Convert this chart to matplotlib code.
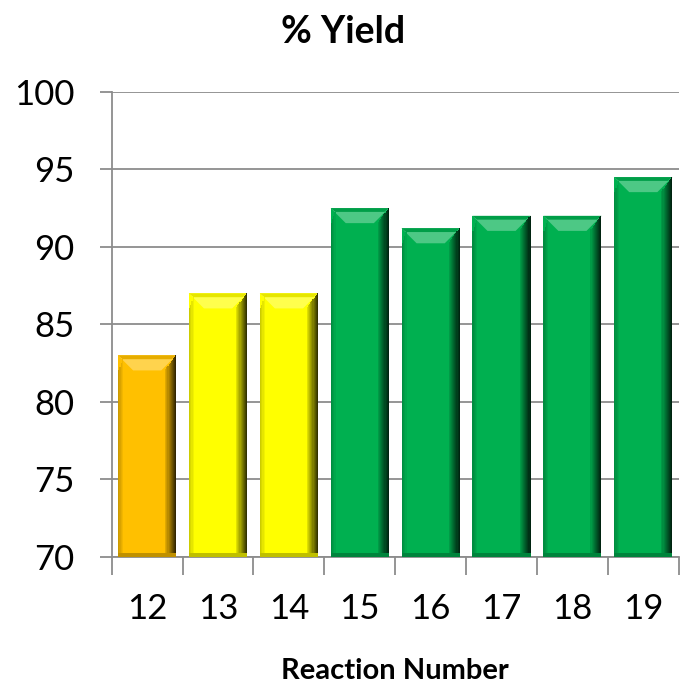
import numpy as np
import matplotlib.pyplot as plt
import matplotlib.colors as mcolors
from matplotlib.patches import Polygon

plt.rcParams['font.family'] = ['Lato', 'DejaVu Sans']

# data
reactions = ['12', '13', '14', '15', '16', '17', '18', '19']
yields = [83, 87, 87, 92.5, 91.2, 92, 92, 94.5]
bar_colors = ['#FFC000', '#FFFF00', '#FFFF00', '#00B050',
              '#00B050', '#00B050', '#00B050', '#00B050']
y_ticks = [70, 75, 80, 85, 90, 95, 100]


def shade(c, f):
    # f<1 darkens, f>1 lightens toward white
    r = np.array(mcolors.to_rgb(c))
    if f < 1:
        return tuple(r * f)
    return tuple(r + (1 - r) * (f - 1))


fig = plt.figure(figsize=(6.94, 6.84), dpi=100)
ax = fig.add_axes([0.161, 0.1857, 0.817, 0.68])

x = np.arange(len(reactions))
ymin = 70
bars = ax.bar(x, np.array(yields) - ymin, bottom=ymin, width=0.82,
              color=bar_colors, edgecolor='none', zorder=3)

ax.set_xlim(-0.5, len(reactions) - 0.5)
ax.set_ylim(70, 100)

# bevel look on each bar
fig.canvas.draw()
px_x = ax.transData.transform((1, 0))[0] - ax.transData.transform((0, 0))[0]
px_y = ax.transData.transform((0, 1))[1] - ax.transData.transform((0, 0))[1]
for b, c in zip(bars, bar_colors):
    x0, w = b.get_x(), b.get_width()
    y0, h = b.get_y(), b.get_height()
    x1, y1 = x0 + w, y0 + h
    bx = 15 / px_x
    by = 15 / px_y
    # top bevel
    ax.add_patch(Polygon([(x0, y1), (x1, y1), (x1 - bx, y1 - by), (x0 + bx, y1 - by)],
                         closed=True, facecolor=shade(c, 1.3), edgecolor='none', zorder=4))
    ax.add_patch(Polygon([(x0, y1), (x1, y1), (x1 - 0.3 * bx, y1 - 0.25 * by), (x0 + 0.3 * bx, y1 - 0.25 * by)],
                         closed=True, facecolor=shade(c, 0.9), edgecolor='none', zorder=4))
    # right edge shading, getting darker outward
    n = 10
    for i in range(n):
        sw = 11 / px_x / n
        xs = x1 - (n - i) * sw
        ax.add_patch(plt.Rectangle((xs, y0), sw, h - by * (1 - (i + 1) / n),
                                   facecolor=shade(c, 0.95 - 0.75 * (i + 1) / n),
                                   edgecolor='none', zorder=4))
    # left edge shading
    for i in range(4):
        sw = 5 / px_x / 4
        ax.add_patch(plt.Rectangle((x0 + i * sw, y0), sw, h - by * (1 - i / 4),
                                   facecolor=shade(c, 0.8 + 0.05 * i),
                                   edgecolor='none', zorder=4))
    # bottom edge
    ax.add_patch(plt.Rectangle((x0, y0), w, 4 / px_y,
                               facecolor=shade(c, 0.75), edgecolor='none', zorder=4))

# axes styling
for s in ['top', 'right']:
    ax.spines[s].set_visible(False)
for s in ['left', 'bottom']:
    ax.spines[s].set_color('#8c8c8c')
    ax.spines[s].set_linewidth(1.3)

ax.set_yticks(y_ticks)
ax.set_yticklabels([str(v) for v in y_ticks], fontsize=25)
ax.yaxis.grid(True, color='#8c8c8c', linewidth=1.3, zorder=0)
ax.tick_params(axis='y', length=9, width=1.3, color='#8c8c8c', pad=18)

ax.set_xticks(np.arange(len(reactions) + 1) - 0.5)
ax.set_xticklabels([])
ax.tick_params(axis='x', which='major', length=13, width=1.3, color='#8c8c8c')
ax.set_xticks(x, minor=True)
ax.set_xticklabels(reactions, minor=True, fontsize=25)
ax.tick_params(axis='x', which='minor', length=0, pad=26)

ax.set_xlabel('Reaction Number', fontsize=21, fontweight='bold', labelpad=24)
fig.text(0.494, 0.937, '% Yield', fontsize=27, fontweight='bold',
         ha='center', va='baseline')

fig.savefig('out.png', dpi=100)
